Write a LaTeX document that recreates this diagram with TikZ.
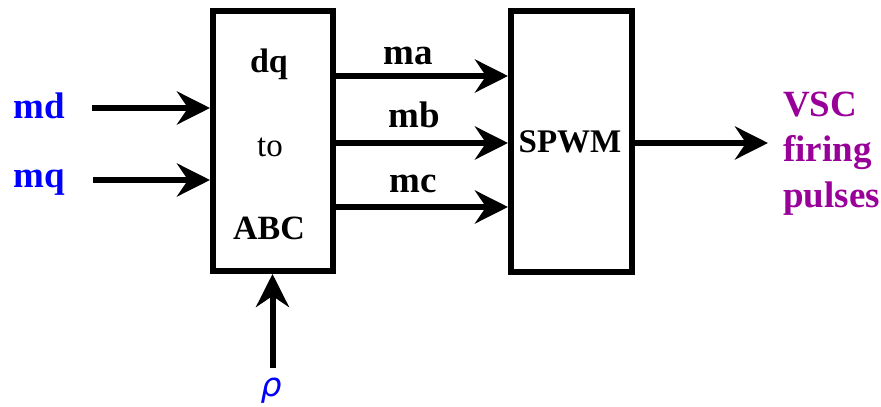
\documentclass[tikz,border=0pt]{standalone}
\usepackage{fontspec}
\setmainfont{Liberation Serif}
\newfontfamily\rhofont{DejaVu Sans}
\usetikzlibrary{arrows.meta}
\definecolor{inblue}{RGB}{0,0,255}
\definecolor{outpurple}{RGB}{153,0,153}
\begin{document}
\begin{tikzpicture}[x=1pt,y=1pt,
  blk/.style={draw,line width=6pt,rectangle,inner sep=0pt},
  sig/.style={line width=6pt,-{Stealth[length=33pt,width=33pt,inset=11pt]}},
  boxtxt/.style={font=\bfseries\fontsize{34}{40}\selectfont,inner sep=0pt,anchor=base},
  lab/.style={font=\bfseries\fontsize{37}{44}\selectfont,inner sep=0pt,anchor=base},
  outlab/.style={font=\bfseries\fontsize{37}{46}\selectfont,text=outpurple,inner sep=0pt,anchor=base west},
]
\useasboundingbox (0,0) rectangle (881,407);
% blocks
\node[blk,minimum width=120pt,minimum height=260pt] (b1) at (273,266) {};
\node[blk,minimum width=121pt,minimum height=261pt] (b2) at (571.5,265.5) {};
% block texts
\node[boxtxt] (dq) at (269,334) {dq};
\node[boxtxt,font=\fontsize{33}{40}\selectfont] (to) at (270,250) {to};
\node[boxtxt] (abc) at (269,167) {ABC};
\node[boxtxt,font=\bfseries\fontsize{33}{40}\selectfont] (spwm) at (570,254) {SPWM};
% input labels
\node[lab,text=inblue] (md) at (39.5,288) {md};
\node[lab,text=inblue] (mq) at (39.5,219) {mq};
\node[inner sep=0pt,anchor=base,text=inblue,font=\rhofont\itshape\fontsize{33}{38}\selectfont] (rho) at (271,10) {ρ};
% middle labels
\node[lab] (ma) at (408,342) {ma};
\node[lab] (mb) at (414,279) {mb};
\node[lab] (mc) at (413,214) {mc};
% output label
\node[outlab] (vsc) at (783,290) {VSC};
\node[outlab] (firing) at (783,245) {firing};
\node[outlab] (pulses) at (783,199) {pulses};
% coordinates
\coordinate (mdS) at (92,299);
\coordinate (mqS) at (93,227);
\coordinate (rhoS) at (272.5,39);
\coordinate (outE) at (768,264);
\coordinate (yA) at (0,331);
\coordinate (yB) at (0,264);
\coordinate (yC) at (0,200);
% connectors
\draw[sig] (mdS) -- (b1.west |- mdS);
\draw[sig] (mqS) -- (b1.west |- mqS);
\draw[sig] (rhoS) -- (b1.south -| rhoS);
\draw[sig] (b1.east |- yA) -- (b2.west |- yA);
\draw[sig] (b1.east |- yB) -- (b2.west |- yB);
\draw[sig] (b1.east |- yC) -- (b2.west |- yC);
\draw[sig] (b2.east |- outE) -- (outE);
\end{tikzpicture}
\end{document}
